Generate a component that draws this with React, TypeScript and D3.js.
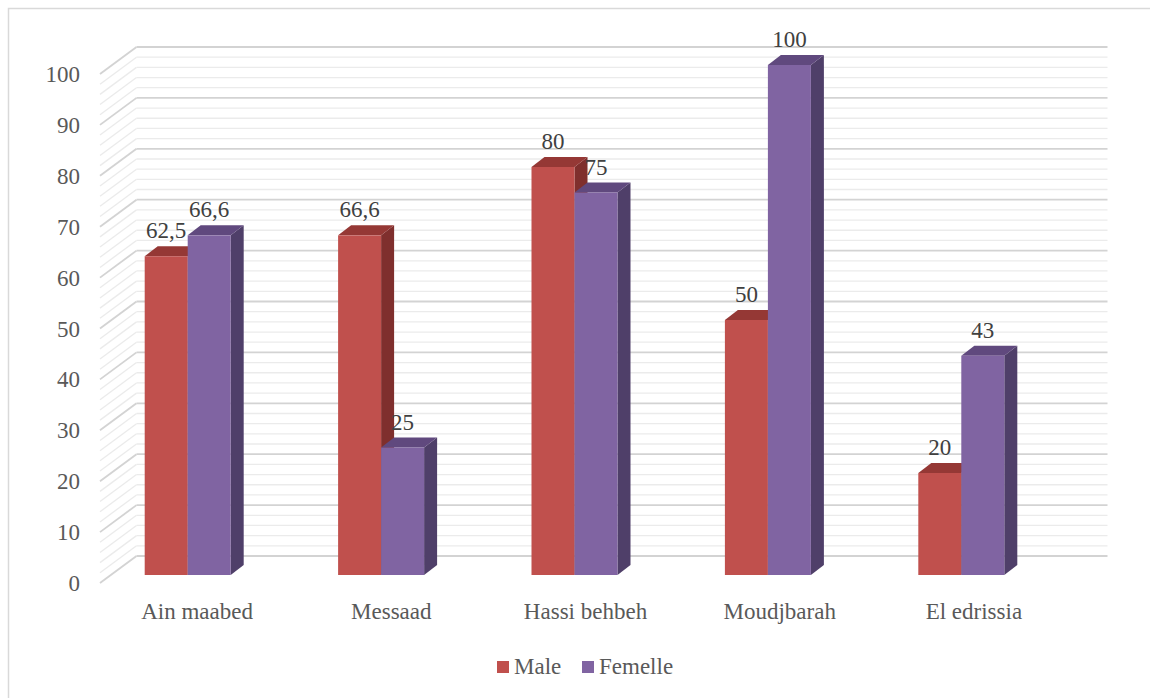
import React from "react";
import * as d3 from "d3";

// Category names and series values
const categories = ["Ain maabed", "Messaad", "Hassi behbeh", "Moudjbarah", "El edrissia"];
const maleValues = [62.5, 66.6, 80, 50, 20];
const femelleValues = [66.6, 25, 75, 100, 43];
const seriesNames = ["Male", "Femelle"];
const yTicks = [0, 10, 20, 30, 40, 50, 60, 70, 80, 90, 100];

const W = 1150;
const H = 698;

// Face colours for the 3D columns: front, side, top
const palette: Record<string, { front: string; side: string; top: string }> = {
  Male: { front: "#C0504D", side: "#7F2F2D", top: "#953835" },
  Femelle: { front: "#8064A2", side: "#4F3F69", top: "#60497E" },
};

// Oblique projection of the chart box
const DEPTH_DX = 36.5;
const DEPTH_DY = -27;
const BAR_DX = 13;
const BAR_DY = -10;
const GROUP_W = 86;

const fmt = d3.formatLocale({ decimal: ",", thousands: " ", grouping: [3], currency: ["", ""] }).format("~r");

const textStyle = { fontFamily: "Liberation Serif", fontSize: "23px" };

export default function App() {
  const yFront = d3.scaleLinear().domain([0, 100]).range([583, 74]);
  const xFront = d3.scaleBand<string>().domain(categories).range([100, 1071]);
  const yBar = d3.scaleLinear().domain([0, 100]).range([575, 65]);
  const xBar = d3.scaleBand<string>().domain(categories).range([91, 1058]);
  const xSeries = d3.scaleBand<string>().domain(seriesNames).range([0, GROUP_W]);

  const gridValues = d3.range(0, 101, 2);
  const backLeft = xFront.range()[0] + DEPTH_DX;
  const backRight = xFront.range()[1] + DEPTH_DX;

  const bars = categories.flatMap((c, i) =>
    seriesNames.map((s) => {
      const v = s === "Male" ? maleValues[i] : femelleValues[i];
      const x0 = (xBar(c) as number) + (xBar.bandwidth() - GROUP_W) / 2 + (xSeries(s) as number);
      const x1 = x0 + xSeries.bandwidth();
      const yb = yBar(0);
      const yt = yBar(v);
      return { c, s, v, x0, x1, yb, yt };
    })
  );

  const pts = (arr: number[][]) => arr.map((p) => p.join(",")).join(" ");

  return (
    <svg width={W} height={H} style={{ position: "absolute", left: 0, top: 0, background: "#fff" }}>
      <rect x={0} y={0} width={W} height={H} fill="#fff" />
      <rect x={8.5} y={8.5} width={W + 20} height={H + 20} fill="none" stroke="#d9d9d9" strokeWidth={1.5} />

      {/* back wall and side wall gridlines */}
      <g>
        {gridValues.map((v) => {
          const major = v % 10 === 0;
          const yf = yFront(v);
          const stroke = major ? "#d3d3d3" : "#ebebeb";
          const sw = major ? 1.8 : 1.3;
          return (
            <g key={v}>
              <line x1={xFront.range()[0]} y1={yf} x2={backLeft} y2={yf + DEPTH_DY} stroke={stroke} strokeWidth={sw} />
              <line x1={backLeft} y1={yf + DEPTH_DY} x2={backRight} y2={yf + DEPTH_DY} stroke={stroke} strokeWidth={sw} />
            </g>
          );
        })}
      </g>

      {/* y axis labels */}
      <g fill="#595959" textAnchor="end">
        {yTicks.map((t) => (
          <text key={t} x={80} y={yFront(t) + 8} style={textStyle}>
            {t}
          </text>
        ))}
      </g>

      {/* 3D columns */}
      <g>
        {bars.map((b) => {
          const col = palette[b.s];
          return (
            <g key={b.c + b.s}>
              <polygon
                points={pts([
                  [b.x1, b.yb],
                  [b.x1 + BAR_DX, b.yb + BAR_DY],
                  [b.x1 + BAR_DX, b.yt + BAR_DY],
                  [b.x1, b.yt],
                ])}
                fill={col.side}
              />
              <polygon
                points={pts([
                  [b.x0, b.yt],
                  [b.x1, b.yt],
                  [b.x1 + BAR_DX, b.yt + BAR_DY],
                  [b.x0 + BAR_DX, b.yt + BAR_DY],
                ])}
                fill={col.top}
              />
              <rect x={b.x0} y={b.yt} width={b.x1 - b.x0} height={b.yb - b.yt} fill={col.front} />
            </g>
          );
        })}
      </g>

      {/* value labels */}
      <g fill="#404040" textAnchor="middle">
        {bars.map((b) => (
          <text key={b.c + b.s} x={(b.x0 + b.x1) / 2} y={b.yt - 18} style={textStyle}>
            {fmt(b.v)}
          </text>
        ))}
      </g>

      {/* category labels */}
      <g fill="#595959" textAnchor="middle">
        {categories.map((c) => (
          <text key={c} x={(xFront(c) as number) + xFront.bandwidth() / 2} y={619} style={textStyle}>
            {c}
          </text>
        ))}
      </g>

      {/* legend */}
      <g fill="#595959">
        <rect x={497} y={661} width={12} height={12} fill={palette.Male.front} />
        <text x={514} y={674} style={textStyle}>Male</text>
        <rect x={582} y={661} width={12} height={12} fill={palette.Femelle.front} />
        <text x={599} y={674} style={textStyle}>Femelle</text>
      </g>
    </svg>
  );
}
